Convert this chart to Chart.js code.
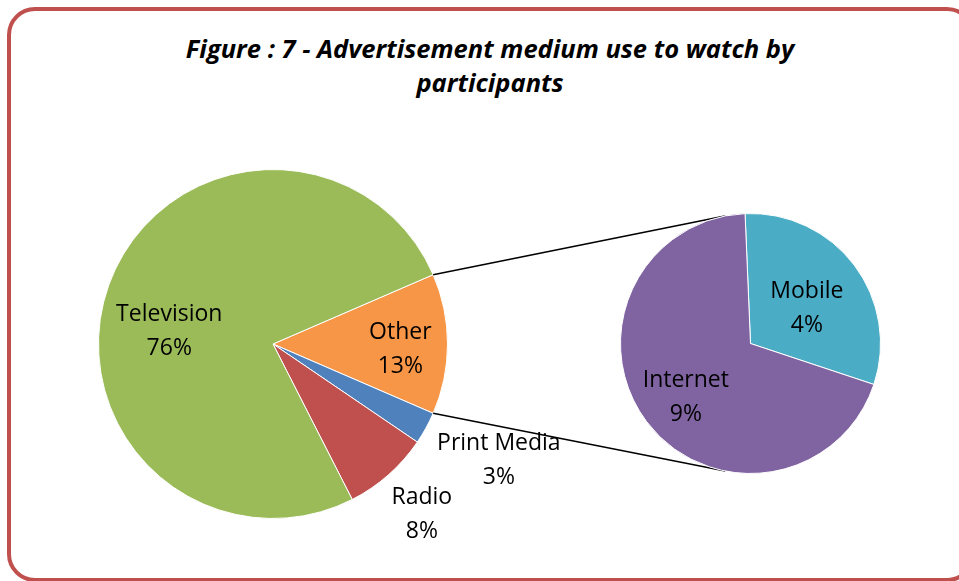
<!DOCTYPE html>
<html>
<head>
<meta charset="utf-8">
<script src="https://cdn.jsdelivr.net/npm/chart.js@4.4.1/dist/chart.umd.min.js"></script>
<style>
  html, body { margin: 0; padding: 0; background: #ffffff; }
  body { width: 959px; height: 581px; position: relative; overflow: hidden; }
  .frame {
    position: absolute; left: 7px; top: 7px; width: 968px; height: 575px;
    box-sizing: border-box; border: 4px solid #c0504d; border-radius: 28px;
  }
  .title {
    position: absolute; left: 90px; width: 800px; top: 31px;
    text-align: center; font-family: "Open Sans", sans-serif;
    font-weight: bold; font-style: italic; font-size: 25.5px; line-height: 34px; color: #000;
  }
  #mainPie { position: absolute; left: 0; top: 0; }
  #subPie { position: absolute; left: 620px; top: 213px; }
</style>
</head>
<body>
<div class="frame"></div>
<div class="title">Figure : 7 - Advertisement medium use to watch by<br>participants</div>
<canvas id="mainPie" width="959" height="581"></canvas>
<canvas id="subPie" width="261" height="261"></canvas>
<script>
// Primary pie: share of each medium (%)
const mainLabels = ['Other', 'Print Media', 'Radio', 'Television'];
const mainValues = [13, 3, 8, 76];
const mainColors = ['#f79646', '#4f81bd', '#c0504d', '#9bbb59'];

// Secondary pie: breakdown of "Other" (%)
const subLabels = ['Mobile', 'Internet'];
const subValues = [4, 9];
const subColors = ['#4bacc6', '#8064a2'];

const LABEL_FONT = '23px "Open Sans", sans-serif';
const LINE_GAP = 34;

// Draws "name / value%" labels; placement is a radius fraction plus an angle nudge per slice
const sliceLabels = {
  id: 'sliceLabels',
  afterDatasetsDraw(chart, args, opts) {
    const ctx = chart.ctx;
    const meta = chart.getDatasetMeta(0);
    const ds = chart.data.datasets[0];
    ctx.save();
    ctx.font = LABEL_FONT;
    ctx.fillStyle = '#000';
    ctx.textAlign = 'center';
    ctx.textBaseline = 'middle';
    meta.data.forEach((arc, i) => {
      const p = arc.getProps(['x', 'y', 'startAngle', 'endAngle', 'outerRadius'], true);
      const mid = (p.startAngle + p.endAngle) / 2 + (opts.shift[i] || 0) * Math.PI / 180;
      const r = p.outerRadius * opts.frac[i];
      const cx = p.x + Math.cos(mid) * r;
      const cy = p.y + Math.sin(mid) * r + 2;
      ctx.fillText(chart.data.labels[i], cx, cy - LINE_GAP / 2);
      ctx.fillText(ds.data[i] + '%', cx, cy + LINE_GAP / 2);
    });
    ctx.restore();
  }
};

const baseOptions = {
  responsive: false,
  animation: false,
  events: [],
  plugins: { legend: { display: false }, tooltip: { enabled: false } }
};

const subChart = new Chart(document.getElementById('subPie'), {
  type: 'pie',
  data: {
    labels: subLabels,
    datasets: [{ data: subValues, backgroundColor: subColors, borderColor: '#ffffff', borderWidth: 1 }]
  },
  options: Object.assign({}, baseOptions, {
    rotation: -2.4,
    layout: { padding: 0 },
    plugins: Object.assign({}, baseOptions.plugins, {
      sliceLabels: { frac: [0.52, 0.64], shift: [3.5, -2] }
    })
  }),
  plugins: [sliceLabels]
});

// Lines from the ends of the "Other" slice, tangent to the secondary pie
const connectors = {
  id: 'connectors',
  afterDatasetsDraw(chart) {
    const arc = chart.getDatasetMeta(0).data[0];
    const p = arc.getProps(['x', 'y', 'startAngle', 'endAngle', 'outerRadius'], true);
    const subArc = subChart.getDatasetMeta(0).data[0];
    const s = subArc.getProps(['x', 'y', 'outerRadius'], true);
    const canvas = subChart.canvas;
    const C = { x: canvas.offsetLeft + s.x, y: canvas.offsetTop + s.y };
    const R = s.outerRadius;
    const ends = [
      { a: p.startAngle, sign: 1 },
      { a: p.endAngle, sign: -1 }
    ];
    const ctx = chart.ctx;
    ctx.save();
    ctx.strokeStyle = '#000';
    ctx.lineWidth = 1.6;
    ends.forEach(e => {
      const P = { x: p.x + Math.cos(e.a) * p.outerRadius, y: p.y + Math.sin(e.a) * p.outerRadius };
      const dx = P.x - C.x, dy = P.y - C.y;
      const d = Math.hypot(dx, dy);
      const theta = Math.atan2(dy, dx);
      const t = theta + e.sign * Math.acos(R / d);
      ctx.beginPath();
      ctx.moveTo(P.x, P.y);
      ctx.lineTo(C.x + Math.cos(t) * R, C.y + Math.sin(t) * R);
      ctx.stroke();
    });
    ctx.restore();
  }
};

new Chart(document.getElementById('mainPie'), {
  type: 'pie',
  data: {
    labels: mainLabels,
    datasets: [{ data: mainValues, backgroundColor: mainColors, borderColor: '#ffffff', borderWidth: 1 }]
  },
  options: Object.assign({}, baseOptions, {
    rotation: 66.6,
    layout: { padding: { left: 98, top: 169, right: 511, bottom: 62 } },
    plugins: Object.assign({}, baseOptions.plugins, {
      sliceLabels: { frac: [0.73, 1.45, 1.29, 0.6], shift: [1.4, -2, 0, -12] }
    })
  }),
  plugins: [sliceLabels, connectors]
});
</script>
</body>
</html>
